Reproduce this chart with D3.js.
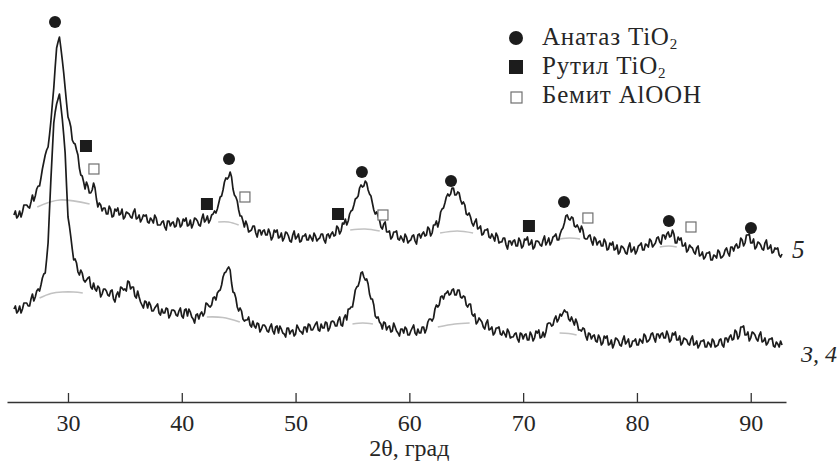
<!DOCTYPE html>
<html><head><meta charset="utf-8">
<script src="https://cdn.jsdelivr.net/npm/d3@7"></script>
<style>body{margin:0;background:#fff}svg{display:block}</style>
</head><body>
<svg id="c" width="839" height="462"></svg>
<script>
// 2θ sampling grid of the two patterns (degrees)
const thetaStart = 25.25, thetaStep = 0.125;
// curve 5 intensity (a.u.)
const curve5 = [
187,191,184,186,191,185,190,197,197,197,195,194,200,207,201,206,
213,216,216,224,233,240,247,252,255,267,281,298,314,335,354,360,
365,354,342,329,314,299,285,281,275,262,259,258,252,247,234,227,
226,220,213,220,216,209,209,212,219,214,203,195,199,197,191,194,
194,188,188,196,193,185,186,193,191,194,187,188,193,183,185,190,
189,188,185,184,190,193,183,184,187,180,183,187,186,187,180,179,
184,182,179,187,184,177,177,177,180,181,175,172,181,181,176,179,
180,175,176,184,182,175,177,183,181,184,176,177,182,174,178,184,
183,181,177,176,183,188,180,182,186,179,182,187,188,191,189,193,
199,205,206,212,220,224,223,225,230,225,213,207,205,201,192,186,
186,181,175,181,177,170,171,172,176,176,169,165,172,172,167,171,
172,167,167,173,169,162,165,172,170,172,164,165,169,161,164,170,
169,166,161,160,167,171,163,165,168,160,161,166,166,168,162,162,
167,164,161,169,166,161,163,164,168,168,162,159,167,168,164,168,
170,166,167,176,174,168,171,179,178,183,177,181,188,191,192,197,
203,204,206,214,217,215,216,221,219,212,208,206,199,192,188,190,
186,182,175,173,178,180,170,170,171,163,165,170,170,171,163,162,
166,163,160,168,165,159,161,162,166,167,161,158,167,168,164,168,
170,166,167,175,173,166,169,177,177,181,175,181,190,193,194,199,
205,208,206,208,214,214,207,207,210,209,202,198,200,197,188,187,
189,185,179,176,180,183,173,174,176,167,168,172,172,173,165,164,
168,165,161,169,166,159,160,160,164,164,157,153,161,161,157,161,
162,156,156,164,161,154,156,163,162,165,157,158,162,153,155,161,
161,160,157,156,162,166,157,160,164,157,160,165,166,168,162,162,
168,172,174,179,186,187,183,182,185,184,176,175,177,174,170,176,
172,164,163,163,166,167,161,157,165,163,157,160,161,156,156,163,
160,152,153,159,157,160,152,153,157,148,150,156,155,153,149,148,
155,159,150,152,155,148,151,156,157,159,152,152,158,157,155,163,
161,155,157,159,164,165,160,158,167,167,163,168,170,165,166,172,
168,159,159,165,162,164,156,156,159,150,152,157,155,154,150,148,
154,156,146,147,150,143,145,149,149,150,142,142,147,146,144,152,
150,144,145,147,152,154,149,146,155,155,151,156,158,154,155,164,
162,156,159,167,167,168,159,159,163,153,155,160,159,157,153,152,
159,162,153,154,157,149,150,154,153,154,147,145,148];
// curves 3, 4 intensity (a.u.)
const curve34 = [
93,96,89,91,96,89,93,99,99,99,96,96,103,108,101,105,
111,113,111,117,124,128,129,143,159,192,223,251,279,290,298,303,
308,296,283,267,249,216,185,176,165,153,142,143,139,130,127,132,
129,122,120,122,124,125,115,113,119,113,111,116,114,105,108,113,
113,111,107,106,111,112,103,100,107,110,105,115,114,112,113,111,
121,120,113,115,115,106,104,111,105,100,97,94,101,100,94,100,
97,91,91,94,96,98,89,87,93,89,89,94,93,84,87,92,
92,91,87,86,91,94,86,84,92,93,86,93,90,85,83,79,
87,88,83,88,90,86,89,99,98,96,95,97,104,105,102,109,
111,112,117,125,129,130,133,135,132,119,110,109,104,95,91,94,
91,83,81,82,82,85,77,75,81,76,74,79,78,70,73,77,
77,75,71,70,75,78,71,68,75,76,69,76,73,69,68,65,
74,74,68,71,72,66,68,77,74,71,70,68,75,75,70,78,
77,72,72,75,78,80,72,71,78,74,74,80,79,71,74,80,
81,80,76,76,82,85,77,76,84,87,82,93,93,95,95,103,
112,115,116,121,129,130,125,122,123,118,108,103,103,97,86,84,
85,80,78,73,80,79,72,75,76,70,71,79,75,71,69,66,
73,73,69,75,73,67,67,71,74,77,69,67,73,69,69,75,
75,69,73,80,83,83,81,84,93,97,95,97,105,106,103,108,
109,111,107,108,112,113,107,107,112,112,105,104,106,105,97,95,
98,98,88,86,88,78,80,84,82,80,75,73,79,82,72,73,
75,67,69,74,74,75,68,67,71,68,65,73,70,64,65,65,
68,69,63,60,69,68,63,67,68,62,62,70,67,61,64,71,
69,72,64,65,70,65,70,78,79,79,76,77,83,86,80,83,
88,86,89,92,90,90,83,81,85,81,77,83,79,72,72,71,
74,73,66,62,69,68,63,66,67,61,60,67,64,57,59,66,
64,66,57,58,62,54,58,64,63,61,57,56,62,66,58,60,
63,55,56,61,61,63,57,57,63,61,59,68,66,60,61,63,
68,69,64,60,68,68,64,68,69,64,64,71,67,60,62,69,
67,70,62,62,66,57,59,64,63,62,58,57,63,66,57,58,
61,54,57,61,61,62,55,55,60,58,55,63,61,55,56,57,
62,63,57,55,64,64,60,65,67,62,63,72,70,63,66,75,
75,76,67,67,70,61,64,70,69,67,63,61,67,70,60,61,
64,57,59,63,63,64,56,55,60,58,55,61,57];
// grey background humps under the peaks: [2θ, intensity]
const bg5 = [
  [[27.3,195],[29.3,202],[31.9,198]],
  [[43.2,180],[44.1,180],[45.0,177]],
  [[54.8,172],[56.1,173],[57.4,171]],
  [[62.7,169],[64.2,171],[65.6,169]],
  [[73.2,163],[74.1,164],[75.0,163]],
  [[82.0,155],[82.8,156],[83.5,155]]];
const bg34 = [
  [[27.5,104],[28.5,108.5],[29.5,110],[30.5,110],[31.3,109]],
  [[42.2,85],[43.6,84.5],[45.1,80]],
  [[55.0,78],[55.9,79],[56.8,78]],
  [[62.5,75],[64.0,78],[65.3,79]],
  [[73.2,69],[74.0,68.5],[74.7,67]]];
// phase markers: [2θ, intensity]
const anatase = [[28.86,380],[44.15,243],[55.83,230],[63.66,221],[73.59,200],[82.81,181],[90.02,174]];
const rutile = [[31.58,256],[42.21,198],[53.73,188],[70.51,176]];
const boehmite = [[32.28,233],[45.55,205],[57.68,187],[75.69,184],[84.75,175]];
const xTicks = [30,40,50,60,70,80,90];
const xTitle = "2θ, град";
const legendNames = ["Анатаз TiO", "Рутил TiO", "Бемит AlOOH"];
const legendSubs = ["2", "2", ""];
const curveLabels = ["5", "3, 4"];

const svg = d3.select("#c");
const x = d3.scaleLinear().domain([24.64, 93.1]).range([7, 786]);
const y = d3.scaleLinear().domain([0, 400]).range([402, 2]);
const FONT = "'Liberation Serif','Times New Roman',serif";
const INK = "#1c1c1c";
const TXT = "#262626";

const theta = i => thetaStart + i * thetaStep;
const line = d3.line().x((d,i) => x(theta(i))).y(d => y(d));
const bgLine = d3.line().x(d => x(d[0])).y(d => y(d[1])).curve(d3.curveNatural);

// background humps
svg.append("g").selectAll("path").data(bg5.concat(bg34)).join("path")
  .attr("d", bgLine).attr("fill","none").attr("stroke","#c2c2c2").attr("stroke-width",1.7);

// patterns
[curve5, curve34].forEach(c => {
  svg.append("path").attr("d", line(c)).attr("fill","none")
    .attr("stroke", INK).attr("stroke-width", 1.7).attr("stroke-linejoin","round");
});

// markers
svg.append("g").selectAll("circle").data(anatase).join("circle")
  .attr("cx", d => x(d[0])).attr("cy", d => y(d[1])).attr("r", 6).attr("fill", INK);
svg.append("g").selectAll("rect").data(rutile).join("rect")
  .attr("x", d => x(d[0]) - 6).attr("y", d => y(d[1]) - 6).attr("width", 12).attr("height", 12).attr("fill", INK);
svg.append("g").selectAll("rect").data(boehmite).join("rect")
  .attr("x", d => x(d[0]) - 5).attr("y", d => y(d[1]) - 5).attr("width", 10).attr("height", 10)
  .attr("fill", "#fff").attr("stroke", "#707070").attr("stroke-width", 1.2);

// axis
const ax = svg.append("g").attr("transform", "translate(0,402)")
  .call(d3.axisBottom(x).tickValues(xTicks).tickSize(-9).tickSizeOuter(0).tickPadding(12).tickFormat(d3.format("d")));
ax.select(".domain").attr("stroke", "#333").attr("stroke-width", 1.6);
ax.selectAll(".tick line").attr("stroke", "#333").attr("stroke-width", 1.3);
ax.selectAll(".tick text").attr("font-family", FONT).attr("font-size", 24).attr("fill", TXT);

svg.append("text").attr("x", x(60)).attr("y", 456).attr("text-anchor", "middle")
  .attr("font-family", FONT).attr("font-size", 24).attr("fill", TXT).text(xTitle);

// curve labels
svg.append("text").attr("x", 792).attr("y", 258).attr("font-family", FONT).attr("font-style","italic")
  .attr("font-size", 25).attr("fill", TXT).text(curveLabels[0]);
svg.append("text").attr("x", 837).attr("y", 362).attr("text-anchor","end").attr("font-family", FONT)
  .attr("font-style","italic").attr("font-size", 24).attr("fill", TXT).text(curveLabels[1]);

// legend
const lg = svg.append("g");
const rowY = [45, 74, 103];
lg.append("circle").attr("cx", 516).attr("cy", rowY[0] - 7).attr("r", 7).attr("fill", INK);
lg.append("rect").attr("x", 509).attr("y", rowY[1] - 14).attr("width", 14).attr("height", 14).attr("fill", INK);
lg.append("rect").attr("x", 511).attr("y", rowY[2] - 11).attr("width", 11).attr("height", 11)
  .attr("fill", "#fff").attr("stroke", "#707070").attr("stroke-width", 1.2);
legendNames.forEach((n, i) => {
  const t = lg.append("text").attr("x", 542).attr("y", rowY[i]).attr("font-family", FONT)
    .attr("font-size", 25).attr("letter-spacing", 0.8).attr("fill", TXT);
  t.append("tspan").text(n);
  if (legendSubs[i]) t.append("tspan").attr("dy", 4).attr("font-size", 15).text(legendSubs[i]);
});
</script>
</body></html>
